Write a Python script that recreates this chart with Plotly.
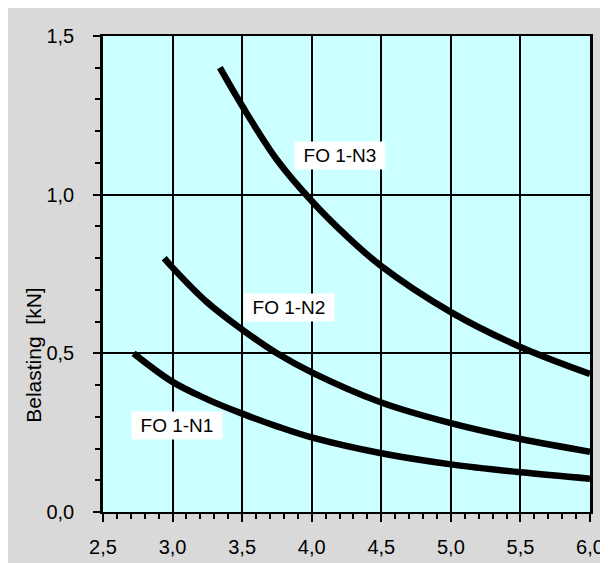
import plotly.graph_objects as go

n1_x = [2.72, 3.0, 3.25, 3.5, 3.75, 4.0, 4.5, 5.0, 5.5, 6.0]
n1_y = [0.50, 0.41, 0.355, 0.31, 0.27, 0.235, 0.185, 0.15, 0.125, 0.105]
n2_x = [2.94, 3.0, 3.25, 3.5, 3.75, 4.0, 4.5, 5.0, 5.5, 6.0]
n2_y = [0.80, 0.77, 0.66, 0.575, 0.50, 0.44, 0.345, 0.28, 0.23, 0.19]
n3_x = [3.34, 3.5, 3.75, 4.0, 4.25, 4.5, 5.0, 5.5, 6.0]
n3_y = [1.40, 1.28, 1.11, 0.98, 0.87, 0.775, 0.63, 0.52, 0.435]

labels = ["FO 1-N1", "FO 1-N2", "FO 1-N3"]
label_x = [3.03, 3.835, 4.20]
label_y = [0.274, 0.643, 1.122]

y_title = "Belasting  [kN]"

FONT = "Liberation Sans, Arial, sans-serif"

fig = go.Figure()
for xs, ys in [(n1_x, n1_y), (n2_x, n2_y), (n3_x, n3_y)]:
    fig.add_trace(go.Scatter(x=xs, y=ys, mode="lines",
                             line=dict(color="black", width=6.5, shape="spline"),
                             showlegend=False, hoverinfo="skip"))

for t, lx, ly in zip(labels, label_x, label_y):
    fig.add_annotation(x=lx, y=ly, text=t, showarrow=False,
                       bgcolor="white", borderpad=1, width=88, height=25,
                       font=dict(family=FONT, size=19, color="black"))

fig.add_annotation(xref="paper", yref="y", x=-0.142, y=0.495, text=y_title,
                   showarrow=False, textangle=-90, xanchor="center", yanchor="middle",
                   font=dict(family=FONT, size=21, color="black"))

axis_font = dict(family=FONT, size=20, color="black")
fig.update_layout(
    width=600, height=555,
    margin=dict(l=95, r=18, t=28, b=51),
    paper_bgcolor="#d9d9d9",
    plot_bgcolor="#ccffff",
    separators=", ",
    xaxis=dict(range=[2.5, 6.0], dtick=0.5, tick0=2.5, tickformat=".1f",
               automargin=False,
               showgrid=True, gridcolor="black", gridwidth=1.5,
               showline=True, linecolor="black", linewidth=2, mirror=True,
               ticks="outside", ticklen=8, tickwidth=1.5, tickcolor="black",
               ticklabelstandoff=8, tickfont=axis_font, zeroline=False,
               minor=dict(dtick=0.1, ticks="outside", ticklen=5, tickwidth=1.5,
                          tickcolor="black", showgrid=False)),
    yaxis=dict(range=[0, 1.5], dtick=0.5, tick0=0, tickformat=".1f",
               automargin=False,
               showgrid=True, gridcolor="black", gridwidth=1.5,
               showline=True, linecolor="black", linewidth=2.5, mirror=True,
               ticks="outside", ticklen=7, tickwidth=1.5, tickcolor="black",
               ticklabelstandoff=15, tickfont=axis_font, zeroline=False,
               minor=dict(dtick=0.1, ticks="outside", ticklen=5, tickwidth=1.5,
                          tickcolor="black", showgrid=False)),
)

fig.write_html("out.html")
